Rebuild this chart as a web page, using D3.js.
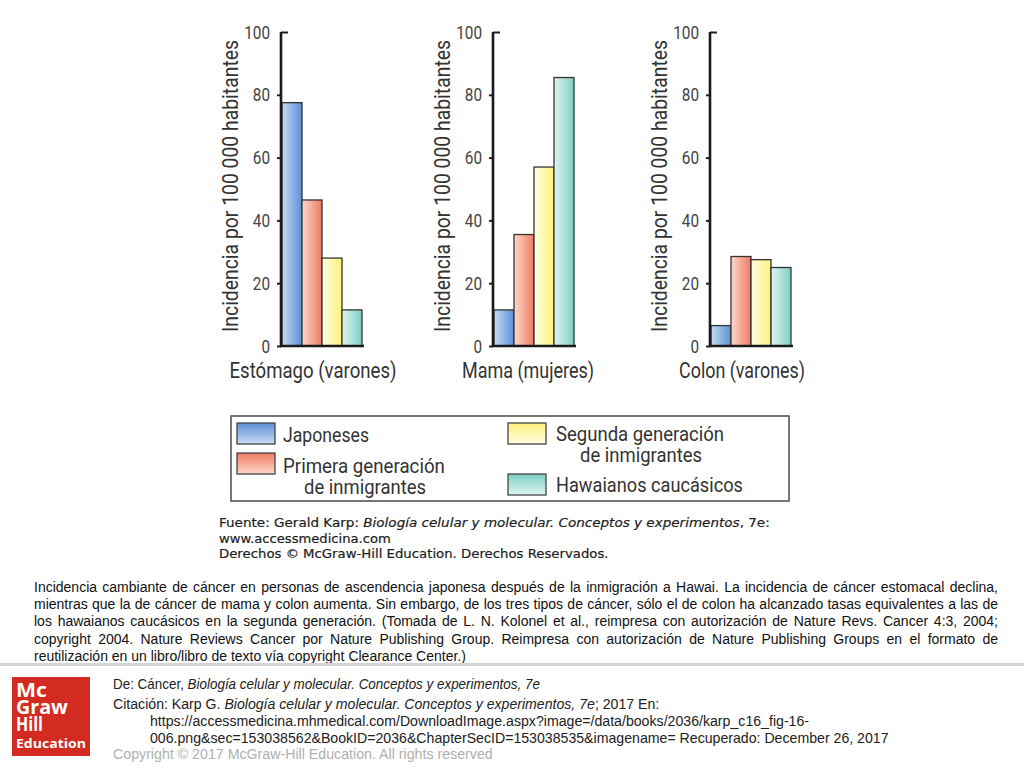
<!DOCTYPE html>
<html><head><meta charset="utf-8">
<script src="https://cdn.jsdelivr.net/npm/d3@7"></script>
<style>body{margin:0;background:#fff;overflow:hidden}</style>
</head><body><svg id="c" width="1024" height="768"></svg>
<script>
// ---------- data ----------
const panelNames = ["Estómago (varones)", "Mama (mujeres)", "Colon (varones)"];
const seriesNames = ["Japoneses", "Primera generación de inmigrantes", "Segunda generación de inmigrantes", "Hawaianos caucásicos"];
const japoneses = [77.5, 11.5, 6.5];
const primeraGen = [46.5, 35.5, 28.5];
const segundaGen = [28, 57, 27.5];
const hawaianos = [11.5, 85.5, 25];
const yTicks = [0, 20, 40, 60, 80, 100];
const yAxisTitle = "Incidencia por 100 000 habitantes";
const captionLines = [
  "Incidencia cambiante de cáncer en personas de ascendencia japonesa después de la inmigración a Hawai. La incidencia de cáncer estomacal declina,",
  "mientras que la de cáncer de mama y colon aumenta. Sin embargo, de los tres tipos de cáncer, sólo el de colon ha alcanzado tasas equivalentes a las de",
  "los hawaianos caucásicos en la segunda generación. (Tomada de L. N. Kolonel et al., reimpresa con autorización de Nature Revs. Cancer 4:3, 2004;",
  "copyright 2004. Nature Reviews Cancer por Nature Publishing Group. Reimpresa con autorización de Nature Publishing Groups en el formato de",
  "reutilización en un libro/libro de texto vía copyright Clearance Center.)"
];

const seriesValues = [japoneses, primeraGen, segundaGen, hawaianos];
const svg = d3.select("#c");
const W = 1024, H = 768;

// ---------- gradients ----------
const gradColors = [["#c9dcf3", "#5a8fd7"], ["#fdd8ca", "#ee7b64"], ["#fffde2", "#fff27a"], ["#e0f4f1", "#7ccfc3"]];
const defs = svg.append("defs");
gradColors.forEach((c, i) => {
  const gh = defs.append("linearGradient").attr("id", "gh" + i).attr("x1", 0).attr("x2", 1).attr("y1", 0).attr("y2", 0);
  gh.append("stop").attr("offset", "0%").attr("stop-color", c[0]);
  gh.append("stop").attr("offset", "100%").attr("stop-color", c[1]);
  const gv = defs.append("linearGradient").attr("id", "gv" + i).attr("x1", 0).attr("x2", 0).attr("y1", 0).attr("y2", 1);
  gv.append("stop").attr("offset", "0%").attr("stop-color", c[1]);
  gv.append("stop").attr("offset", "100%").attr("stop-color", c[0]);
});

// helper: fit a text element to a width by horizontal scaling
function fitText(parent, x, y, width, anchor, build, rotate) {
  const g = parent.append("g");
  const t = g.append("text").attr("text-anchor", anchor || "start");
  build(t);
  const w = t.node().getBBox().width;
  const k = w > 0 ? width / w : 1;
  g.attr("transform", `translate(${x},${y})` + (rotate ? ` rotate(${rotate})` : "") + ` scale(${k},1)`);
  return t;
}

const chartFont = "Roboto, 'Open Sans', sans-serif";
const txtCol = "#333";

// ---------- panels ----------
const axisXs = [281, 493, 710];
const labelCx = [313, 528, 742];
const labelW = [167, 132, 126];
const y = d3.scaleLinear().domain([0, 100]).range([346, 32]);

panelNames.forEach((name, p) => {
  const ax = axisXs[p];
  const g = svg.append("g");
  const x = d3.scaleBand().domain(d3.range(seriesNames.length)).range([ax + 1, ax + 81]).padding(0);

  // bars
  g.selectAll("rect.bar").data(seriesValues.map((s, i) => ({ i, v: s[p] })))
    .enter().append("rect")
    .attr("x", d => x(d.i)).attr("width", x.bandwidth())
    .attr("y", d => y(d.v)).attr("height", d => y(0) - y(d.v))
    .attr("fill", d => `url(#gh${d.i})`)
    .attr("stroke", "#333").attr("stroke-width", 1.3);

  // y axis
  const axG = g.append("g").attr("transform", `translate(${ax},0)`)
    .call(d3.axisLeft(y).tickValues(yTicks).tickSize(4).tickPadding(7));
  axG.select(".domain").remove();
  axG.selectAll(".tick line").attr("stroke", "#222").attr("stroke-width", 2)
    .filter(d => d === 100).attr("x2", 7);
  axG.selectAll(".tick text").attr("font-family", chartFont).attr("font-size", 19)
    .attr("fill", "#444").attr("font-weight", 400)
    .attr("textLength", d => String(d).length * 8.6).attr("lengthAdjust", "spacingAndGlyphs");

  // axis lines
  g.append("line").attr("x1", ax).attr("x2", ax).attr("y1", y(100)).attr("y2", y(0) + 1)
    .attr("stroke", "#1a1a1a").attr("stroke-width", 2.6);
  g.append("line").attr("x1", ax - 1).attr("x2", ax + 83).attr("y1", y(0)).attr("y2", y(0))
    .attr("stroke", "#1a1a1a").attr("stroke-width", 2.6);

  // y title
  fitText(g, ax - 43, (y(0) + y(100)) / 2 - 3, 292, "middle", t => t.text(yAxisTitle)
    .attr("font-family", chartFont).attr("font-size", 22).attr("fill", txtCol).attr("font-weight", 400), -90);

  // x label
  fitText(g, labelCx[p], 378, labelW[p], "middle",
    t => t.text(name).attr("font-family", chartFont).attr("font-size", 22).attr("fill", txtCol).attr("font-weight", 400));
});

// ---------- legend ----------
const lg = svg.append("g");
lg.append("rect").attr("x", 231).attr("y", 416).attr("width", 558).attr("height", 85)
  .attr("fill", "#fff").attr("stroke", "#555").attr("stroke-width", 1.6);
const swatches = [
  { x: 237, y: 423, h: 21 },
  { x: 237, y: 453, h: 21 },
  { x: 508, y: 423, h: 21 },
  { x: 508, y: 474, h: 21 }
];
lg.selectAll("rect.sw").data(swatches).enter().append("rect")
  .attr("x", d => d.x).attr("y", d => d.y).attr("width", 38).attr("height", d => d.h)
  .attr("fill", (d, i) => `url(#gv${i})`).attr("stroke", "#444").attr("stroke-width", 1.3);

const legendLabels = [
  { text: "Japoneses", x: 283, y: 442, w: 86, a: "start" },
  { text: "Primera generación", x: 283, y: 473, w: 162, a: "start" },
  { text: "de inmigrantes", x: 365, y: 494, w: 122, a: "middle" },
  { text: "Segunda generación", x: 556, y: 441, w: 168, a: "start" },
  { text: "de inmigrantes", x: 641, y: 462, w: 122, a: "middle" },
  { text: "Hawaianos caucásicos", x: 556, y: 492, w: 187, a: "start" }
];
legendLabels.forEach(l => fitText(lg, l.x, l.y, l.w, l.a, t => t.text(l.text)
  .attr("font-family", chartFont).attr("font-size", 20).attr("fill", txtCol).attr("font-weight", 400)));

// ---------- source ----------
const srcFont = "'DejaVu Sans', Verdana, sans-serif";
function srcStyle(t) {
  return t.attr("font-family", srcFont).attr("font-size", 13).attr("fill", "#1c1c1c")
    .attr("stroke", "#1c1c1c").attr("stroke-width", 0.2);
}
fitText(svg, 219, 527, 551, "start", t => {
  srcStyle(t);
  t.append("tspan").text("Fuente: Gerald Karp: ");
  t.append("tspan").attr("font-style", "italic").text("Biología celular y molecular. Conceptos y experimentos");
  t.append("tspan").text(", 7e:");
});
fitText(svg, 219, 543, 172, "start", t => srcStyle(t.text("www.accessmedicina.com")));
fitText(svg, 219, 558, 390, "start", t => srcStyle(t.text("Derechos © McGraw-Hill Education. Derechos Reservados.")));

// ---------- caption (justified) ----------
const capFont = "'Liberation Sans', Arial, sans-serif";
const capLeft = 34, capRight = 998;
captionLines.forEach((line, i) => {
  const t = svg.append("text").attr("x", capLeft).attr("y", 592 + i * 17.2)
    .attr("font-family", capFont).attr("font-size", 14).attr("fill", "#111").text(line);
  if (i < captionLines.length - 1) {
    const w = t.node().getComputedTextLength();
    const spaces = (line.match(/ /g) || []).length;
    t.attr("word-spacing", ((capRight - capLeft) - w) / spaces);
  }
});

// separator
svg.append("rect").attr("x", 0).attr("y", 663).attr("width", W).attr("height", 3).attr("fill", "#d4d4d4");

// ---------- logo ----------
const logo = svg.append("g");
logo.append("rect").attr("x", 12).attr("y", 677).attr("width", 78).attr("height", 79).attr("fill", "#d32a22");
const logoFont = "'Open Sans', 'DejaVu Sans', sans-serif";
[["Mc", 697, 31, 20], ["Graw", 714, 52, 20], ["Hill", 731, 27, 20], ["Education", 748, 70, 13]].forEach(d =>
  fitText(logo, 16, d[1], d[2], "start", t => t.text(d[0]).attr("font-family", logoFont)
    .attr("font-weight", 700).attr("font-size", d[3]).attr("fill", "#fff")));

// ---------- footer ----------
const ftFont = "'Liberation Sans', Arial, sans-serif";
fitText(svg, 113, 689, 427, "start", t => {
  t.attr("font-family", ftFont).attr("font-size", 14.5).attr("fill", "#222");
  t.append("tspan").text("De: Cáncer, ");
  t.append("tspan").attr("font-style", "italic").text("Biología celular y molecular. Conceptos y experimentos, 7e");
});
fitText(svg, 113, 709, 547, "start", t => {
  t.attr("font-family", ftFont).attr("font-size", 14.5).attr("fill", "#222");
  t.append("tspan").text("Citación: Karp G. ");
  t.append("tspan").attr("font-style", "italic").text("Biología celular y molecular. Conceptos y experimentos, 7e");
  t.append("tspan").text("; 2017 En:");
});
fitText(svg, 150, 726, 660, "start", t => t.text("https://accessmedicina.mhmedical.com/DownloadImage.aspx?image=/data/books/2036/karp_c16_fig-16-")
  .attr("font-family", ftFont).attr("font-size", 14.5).attr("fill", "#222"));
fitText(svg, 150, 743, 739, "start", t => t.text("006.png&sec=153038562&BookID=2036&ChapterSecID=153038535&imagename= Recuperado: December 26, 2017")
  .attr("font-family", ftFont).attr("font-size", 14.5).attr("fill", "#222"));
fitText(svg, 113, 759, 380, "start", t => t.text("Copyright © 2017 McGraw-Hill Education. All rights reserved")
  .attr("font-family", ftFont).attr("font-size", 14.5).attr("fill", "#b0b0b0"));
</script></body></html>
